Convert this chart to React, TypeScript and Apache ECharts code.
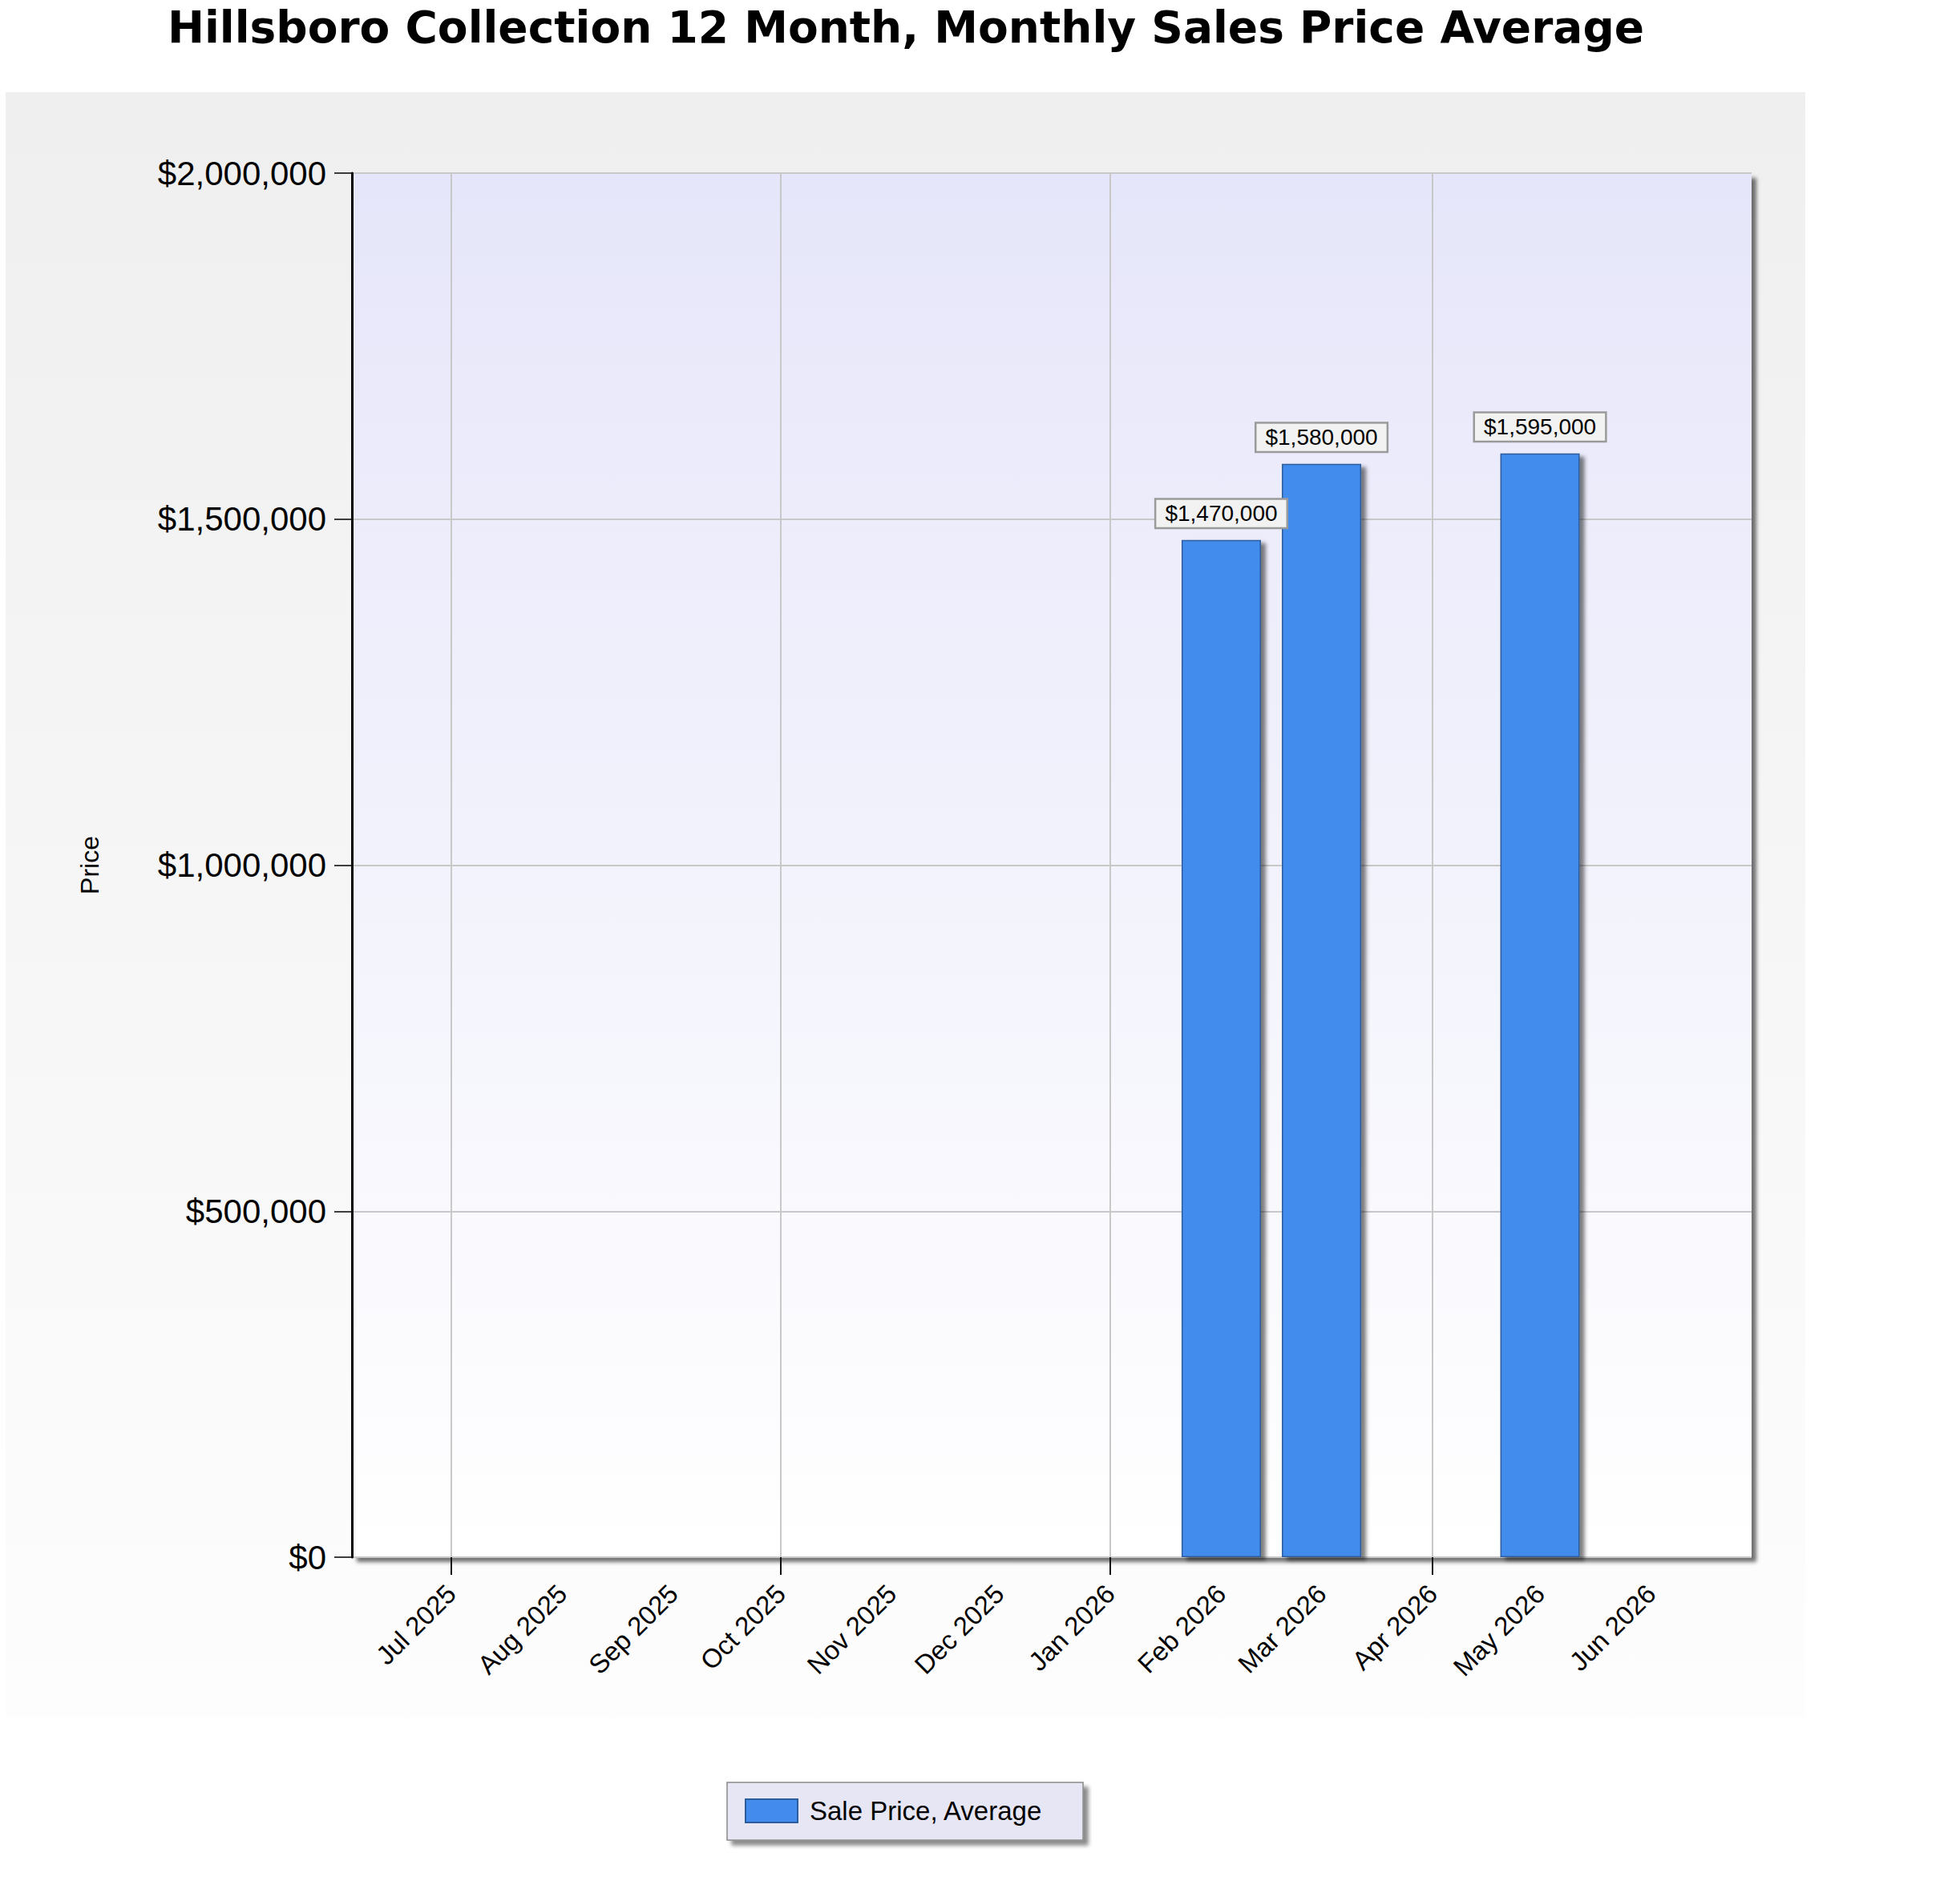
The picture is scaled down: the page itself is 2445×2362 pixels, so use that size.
import React, { useEffect, useRef } from "react";
import * as echarts from "echarts";

const TITLE = "Hillsboro Collection 12 Month, Monthly Sales Price Average";
const SERIES_NAME = "Sale Price, Average";
const Y_NAME = "Price";

const tickLabels = [
  "Jul 2025", "Aug 2025", "Sep 2025", "Oct 2025", "Nov 2025", "Dec 2025",
  "Jan 2026", "Feb 2026", "Mar 2026", "Apr 2026", "May 2026", "Jun 2026",
];
const labelDates = [
  "2025-07-01", "2025-08-01", "2025-09-01", "2025-10-01", "2025-11-01", "2025-12-01",
  "2026-01-01", "2026-02-01", "2026-03-01", "2026-04-01", "2026-05-01", "2026-06-01",
];
const gridDates = ["2025-07-01", "2025-10-01", "2026-01-01", "2026-04-01"];
const barDates = ["2026-02-01", "2026-03-01", "2026-05-01"];
const barValues = [1470000, 1580000, 1595000];
const X_MIN = "2025-06-03T06";
const X_MAX = "2026-06-29T02";
const Y_MIN = 0;
const Y_MAX = 2000000;
const Y_INTERVAL = 500000;

function toTs(s: string): number {
  const [d, h] = s.split("T");
  const [y, m, dd] = d.split("-").map(Number);
  return new Date(y, m - 1, dd, h ? Number(h) : 0).getTime();
}

const money = (v: number) => "$" + Math.round(v).toLocaleString("en-US");

export default function App() {
  const ref = useRef<HTMLDivElement>(null);
  useEffect(() => {
    if (!ref.current) return;
    const chart = echarts.init(ref.current, null, { renderer: "svg" });
    const labelTs = labelDates.map(toTs);
    const labelMap: Record<number, string> = {};
    labelTs.forEach((t, i) => (labelMap[t] = tickLabels[i]));
    const font = "'Liberation Sans', Arial, sans-serif";

    chart.setOption({
      animation: false,
      backgroundColor: "#ffffff",
      title: {
        text: TITLE,
        left: 1130,
        top: 6,
        textAlign: "center",
        padding: 0,
        textStyle: {
          fontFamily: "'DejaVu Sans', Verdana, sans-serif",
          fontWeight: "bold",
          fontSize: 55,
          color: "#000000",
        },
      },
      graphic: [
        {
          type: "rect",
          z: -10,
          silent: true,
          shape: { x: 7, y: 115, width: 2245, height: 2028 },
          style: {
            fill: new echarts.graphic.LinearGradient(0, 0, 0, 1, [
              { offset: 0, color: "#efefef" },
              { offset: 1, color: "#fdfdfd" },
            ]),
          },
        },
      ],
      grid: {
        left: 439,
        right: 260,
        top: 216,
        bottom: 419,
        show: true,
        borderWidth: 0,
        backgroundColor: new echarts.graphic.LinearGradient(0, 0, 0, 1, [
          { offset: 0, color: "#e6e6fa" },
          { offset: 1, color: "#ffffff" },
        ]),
        shadowColor: "rgba(0,0,0,0.55)",
        shadowBlur: 5,
        shadowOffsetX: 6,
        shadowOffsetY: 6,
      },
      legend: {
        left: 907,
        top: 2224,
        orient: "horizontal",
        padding: [19, 50, 20, 22],
        backgroundColor: "#e6e6f5",
        borderColor: "#8a8a8a",
        borderWidth: 1.5,
        shadowColor: "rgba(0,0,0,0.45)",
        shadowBlur: 5,
        shadowOffsetX: 6,
        shadowOffsetY: 6,
        itemWidth: 65,
        itemHeight: 29,
        icon: "rect",
        textStyle: {
          fontFamily: font,
          fontSize: 33,
          color: "#000000",
          padding: [0, 0, 0, 10],
        },
        data: [SERIES_NAME],
      },
      xAxis: {
        type: "value",
        min: toTs(X_MIN),
        max: toTs(X_MAX),
        axisLine: {
          show: true,
          onZero: false,
          lineStyle: {
            color: "#000000",
            width: 4,
            shadowColor: "rgba(0,0,0,0.45)",
            shadowBlur: 4,
            shadowOffsetY: 5,
            shadowOffsetX: 3,
          },
        },
        axisTick: {
          show: true,
          length: 22,
          customValues: gridDates.map(toTs),
          lineStyle: { color: "#111111", width: 2 },
        },
        splitLine: {
          show: true,
          lineStyle: { color: "#c8c8c8", width: 2 },
        },
        axisLabel: {
          customValues: labelTs,
          rotate: 45,
          margin: 40,
          fontFamily: font,
          fontSize: 33,
          color: "#000000",
          hideOverlap: false,
          formatter: (v: number) => labelMap[v] ?? "",
        },
      },
      yAxis: {
        type: "value",
        min: Y_MIN,
        max: Y_MAX,
        interval: Y_INTERVAL,
        name: Y_NAME,
        nameLocation: "middle",
        nameRotate: 90,
        nameGap: 311,
        nameTextStyle: { fontFamily: font, fontSize: 32, color: "#000000" },
        axisLine: { show: true, lineStyle: { color: "#000000", width: 3 } },
        axisTick: { show: true, length: 22, lineStyle: { color: "#000000", width: 1.5 } },
        splitLine: { show: true, lineStyle: { color: "#c8c8c8", width: 2 } },
        axisLabel: {
          margin: 32,
          fontFamily: font,
          fontSize: 42,
          color: "#000000",
          formatter: (v: number) => money(v),
        },
      },
      series: [
        {
          name: SERIES_NAME,
          type: "bar",
          barWidth: 99,
          data: barDates.map((d, i) => [toTs(d), barValues[i]]),
          itemStyle: {
            color: "#438cee",
            borderColor: "#2d5c9c",
            borderWidth: 1.5,
            shadowColor: "rgba(0,0,0,0.5)",
            shadowBlur: 5,
            shadowOffsetX: 6,
            shadowOffsetY: 4,
          },
          label: {
            show: true,
            position: "top",
            distance: 16,
            fontFamily: font,
            fontSize: 28,
            color: "#000000",
            backgroundColor: "#f2f2f2",
            borderColor: "#9a9a9a",
            borderWidth: 2.5,
            padding: [2, 11, 2, 11],
            lineHeight: 30,
            formatter: (p: any) => money(p.value[1]),
          },
        },
      ],
    });
    return () => chart.dispose();
  }, []);
  return (
    <div
      ref={ref}
      style={{ position: "absolute", left: 0, top: 0, width: 2445, height: 2362 }}
    />
  );
}
